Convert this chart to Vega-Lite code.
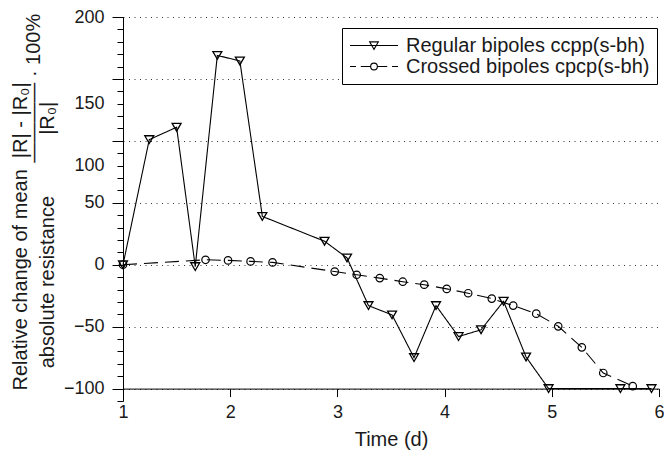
{
  "$schema": "https://vega.github.io/schema/vega-lite/v6.json",
  "width": 536,
  "height": 384,
  "autosize": {"type": "none"},
  "padding": {"left": 123, "top": 17, "right": 5, "bottom": 61},
  "background": "white",
  "config": {
    "view": {"stroke": null},
    "font": "Liberation Sans",
    "axis": {"labelFont": "Liberation Sans", "titleFont": "Liberation Sans", "domainColor": "black", "tickColor": "black", "labelColor": "#1a1a1a", "titleColor": "#1a1a1a"}
  },
  "data": {
    "values": [
      {"series": "Regular bipoles ccpp(s-bh)", "t": 1.0, "v": 0},
      {"series": "Regular bipoles ccpp(s-bh)", "t": 1.245, "v": 101},
      {"series": "Regular bipoles ccpp(s-bh)", "t": 1.5, "v": 111},
      {"series": "Regular bipoles ccpp(s-bh)", "t": 1.674, "v": -1.5},
      {"series": "Regular bipoles ccpp(s-bh)", "t": 1.88, "v": 169},
      {"series": "Regular bipoles ccpp(s-bh)", "t": 2.09, "v": 164.5},
      {"series": "Regular bipoles ccpp(s-bh)", "t": 2.3, "v": 39},
      {"series": "Regular bipoles ccpp(s-bh)", "t": 2.88, "v": 19},
      {"series": "Regular bipoles ccpp(s-bh)", "t": 3.09, "v": 5.5},
      {"series": "Regular bipoles ccpp(s-bh)", "t": 3.29, "v": -33},
      {"series": "Regular bipoles ccpp(s-bh)", "t": 3.51, "v": -40.5},
      {"series": "Regular bipoles ccpp(s-bh)", "t": 3.715, "v": -75},
      {"series": "Regular bipoles ccpp(s-bh)", "t": 3.92, "v": -33},
      {"series": "Regular bipoles ccpp(s-bh)", "t": 4.13, "v": -58},
      {"series": "Regular bipoles ccpp(s-bh)", "t": 4.34, "v": -52.5},
      {"series": "Regular bipoles ccpp(s-bh)", "t": 4.55, "v": -29.5},
      {"series": "Regular bipoles ccpp(s-bh)", "t": 4.76, "v": -74.5},
      {"series": "Regular bipoles ccpp(s-bh)", "t": 4.97, "v": -100},
      {"series": "Regular bipoles ccpp(s-bh)", "t": 5.64, "v": -100},
      {"series": "Regular bipoles ccpp(s-bh)", "t": 5.93, "v": -100},
      {"series": "Crossed bipoles cpcp(s-bh)", "t": 1.0, "v": 0},
      {"series": "Crossed bipoles cpcp(s-bh)", "t": 1.77, "v": 4},
      {"series": "Crossed bipoles cpcp(s-bh)", "t": 1.98, "v": 3.5},
      {"series": "Crossed bipoles cpcp(s-bh)", "t": 2.19, "v": 2.7},
      {"series": "Crossed bipoles cpcp(s-bh)", "t": 2.395, "v": 1.9},
      {"series": "Crossed bipoles cpcp(s-bh)", "t": 2.975, "v": -5.5},
      {"series": "Crossed bipoles cpcp(s-bh)", "t": 3.18, "v": -8.1},
      {"series": "Crossed bipoles cpcp(s-bh)", "t": 3.395, "v": -10.8},
      {"series": "Crossed bipoles cpcp(s-bh)", "t": 3.61, "v": -13.7},
      {"series": "Crossed bipoles cpcp(s-bh)", "t": 3.81, "v": -16.1},
      {"series": "Crossed bipoles cpcp(s-bh)", "t": 4.02, "v": -19.5},
      {"series": "Crossed bipoles cpcp(s-bh)", "t": 4.22, "v": -23},
      {"series": "Crossed bipoles cpcp(s-bh)", "t": 4.44, "v": -27.3},
      {"series": "Crossed bipoles cpcp(s-bh)", "t": 4.64, "v": -33},
      {"series": "Crossed bipoles cpcp(s-bh)", "t": 4.855, "v": -39.5},
      {"series": "Crossed bipoles cpcp(s-bh)", "t": 5.06, "v": -49.7},
      {"series": "Crossed bipoles cpcp(s-bh)", "t": 5.28, "v": -66.7},
      {"series": "Crossed bipoles cpcp(s-bh)", "t": 5.48, "v": -87.4},
      {"series": "Crossed bipoles cpcp(s-bh)", "t": 5.755, "v": -98}
    ]
  },
  "encoding": {
    "x": {
      "field": "t", "type": "quantitative",
      "scale": {"domain": [1, 6], "nice": false, "zero": false},
      "axis": {
        "values": [1, 2, 3, 4, 5, 6], "grid": false, "offset": -12.4,
        "tickSize": 8, "labelFontSize": 18, "labelPadding": 7, "labelFlush": false,
        "title": "Time (d)", "titleFontSize": 20, "titleFontWeight": "normal", "titlePadding": 8
      }
    }
  },
  "layer": [
    {
      "mark": {"type": "line", "strokeWidth": 1.1},
      "encoding": {
        "y": {
          "field": "v", "type": "quantitative",
          "scale": {"domain": [-110, 200], "nice": false, "zero": false},
          "axis": {
            "orient": "left",
            "values": [-100, -50, 0, 50, 100, 150, 200],
            "grid": true, "gridDash": [1, 4.5], "gridColor": "#333333", "gridWidth": 1,
            "tickSize": 11, "labelFontSize": 18, "labelPadding": 8, "labelFlush": false, "labelOverlap": false,
            "labelLineHeight": 25,
            "labelExpr": "datum.value == 150 || datum.value == 100 ? ['', '', datum.label] : datum.label",
            "title": [
              "Relative change of mean\u00a0\u00a0|R| - |R₀|",
              "\u200b\u00a0\u00a0\u00a0\u00a0\u00a0\u00a0\u00a0\u00a0\u00a0\u00a0\u00a0\u00a0\u00a0\u00a0\u00a0\u00a0\u00a0\u00a0\u00a0\u00a0\u00a0\u00a0\u00a0\u00a0\u00a0\u00a0\u00a0\u00a0\u00a0\u00a0\u00a0\u00a0\u00a0\u00a0\u00a0\u00a0\u00a0\u00a0\u00a0\u00a0\u00a0————\u00a0·\u00a0100%",
              "\u200b\u00a0\u00a0\u00a0\u00a0absolute resistance\u00a0\u00a0\u00a0\u00a0\u00a0\u00a0\u00a0\u00a0\u00a0\u00a0\u00a0|R₀|"
            ],
            "titleFontSize": 20, "titleFontWeight": "normal", "titleAngle": 270,
            "titleAlign": "left", "titleBaseline": "top", "titleLineHeight": 13.5,
            "titleX": -113, "titleY": 373
          }
        },
        "color": {
          "field": "series", "type": "nominal",
          "scale": {"domain": ["Regular bipoles ccpp(s-bh)", "Crossed bipoles cpcp(s-bh)"], "range": ["black", "black"]},
          "legend": {
            "title": null, "orient": "none", "legendX": 219, "legendY": 11, "direction": "vertical",
            "labelFontSize": 20, "labelFont": "Liberation Sans", "labelColor": "#1a1a1a", "labelLimit": 0,
            "symbolSize": 2304, "clipHeight": 21, "labelOffset": 7, "rowPadding": 0, "padding": 7,
            "strokeColor": "black", "fillColor": "white", "symbolStrokeWidth": 1.1,
            "encode": {
              "symbols": {
                "update": {
                  "shape": {"signal": "indexof(datum.value, 'Regular') >= 0 ? 'M-1,0H1M-0.18,-0.15L0.18,-0.15L0,0.16Z' : 'M-1,0H-0.75M-0.55,0H-0.14M0.14,0H0.55M0.75,0H1M0.14,0A0.14,0.14 0 0,1 -0.14,0M-0.14,0A0.14,0.14 0 0,1 0.14,0'"},
                  "strokeDash": {"value": [1, 0]},
                  "fill": {"value": "transparent"}
                }
              }
            }
          }
        },
        "strokeDash": {
          "field": "series", "type": "nominal",
          "scale": {"domain": ["Regular bipoles ccpp(s-bh)", "Crossed bipoles cpcp(s-bh)"], "range": [[1, 0], [14, 7]]},
          "legend": null
        }
      }
    },
    {
      "transform": [{"filter": {"field": "series", "equal": "Regular bipoles ccpp(s-bh)"}}],
      "mark": {"type": "point", "shape": "triangle-down", "size": 80, "filled": false, "stroke": "black", "strokeWidth": 1.3, "opacity": 1},
      "encoding": {
        "y": {
          "field": "v", "type": "quantitative",
          "axis": {
            "orient": "left",
            "values": [-110, -100, -90, -80, -70, -60, -50, -40, -30, -20, -10, 0, 10, 20, 30, 40, 50, 60, 70, 80, 90, 100, 110, 120, 130, 140, 150, 160, 170, 180, 190, 200],
            "labels": false, "grid": false, "domain": false, "tickSize": 6, "title": null
          }
        }
      }
    },
    {
      "transform": [{"filter": {"field": "series", "equal": "Crossed bipoles cpcp(s-bh)"}}],
      "mark": {"type": "point", "shape": "circle", "size": 56, "filled": false, "stroke": "black", "strokeWidth": 1.2, "opacity": 1},
      "encoding": {
        "y": {"field": "v", "type": "quantitative", "axis": null}
      }
    }
  ],
  "resolve": {"axis": {"y": "independent"}, "scale": {"y": "shared"}}
}
